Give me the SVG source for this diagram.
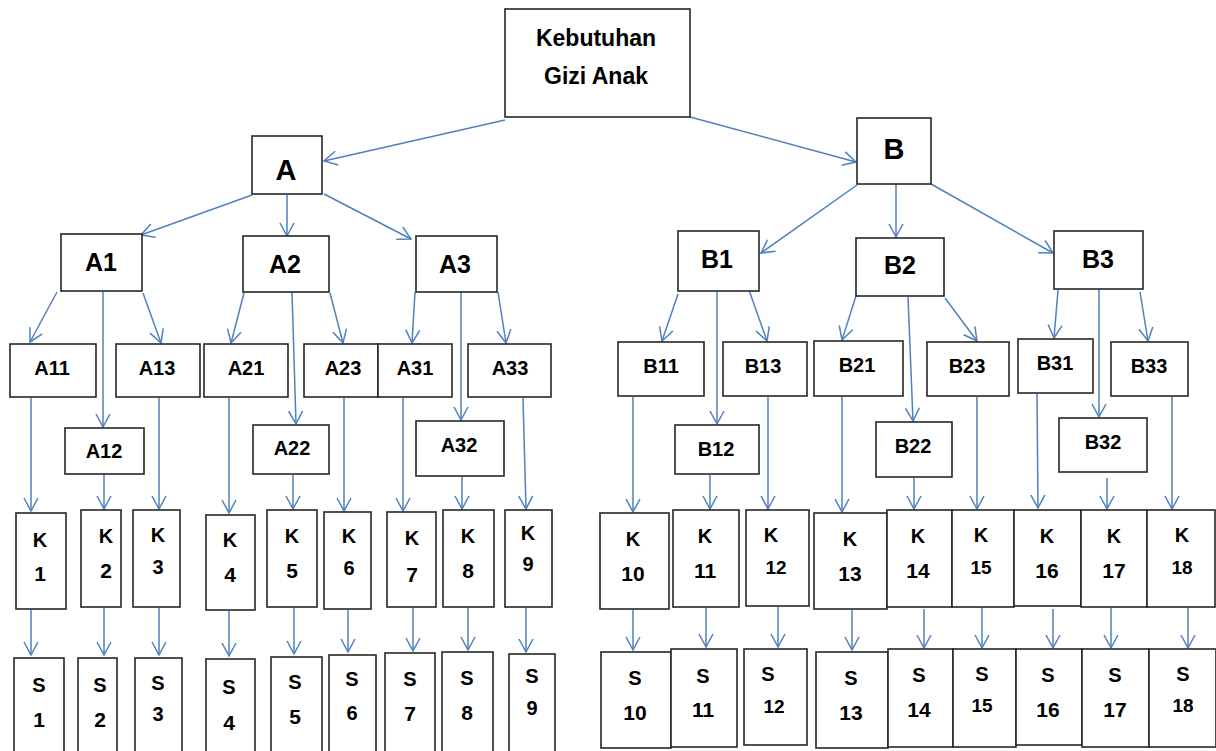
<svg xmlns="http://www.w3.org/2000/svg" width="1216" height="751" viewBox="0 0 1216 751">
<style>
.box{fill:#fff;stroke:#262626;stroke-width:1.6}
text{font-family:"Liberation Sans",Arial,sans-serif;font-weight:bold;text-anchor:middle;fill:#000}
.f28{font-size:29px}.f24{font-size:25px}.f22{font-size:23px}.f19{font-size:20px}.f18{font-size:19px}.f20{font-size:21px}
#connectors line{stroke:#4F81BD;stroke-width:1.5;marker-end:url(#ah)}
</style>
<defs>
<marker id="ah" markerUnits="userSpaceOnUse" markerWidth="16" markerHeight="16" viewBox="0 0 16 16" refX="14" refY="8" orient="auto">
<path d="M1,1 L14,8 L1,15" fill="none" stroke="#4F81BD" stroke-width="1.5"/>
</marker>
</defs>
<rect width="1216" height="751" fill="#fff"/>
<g id="connectors">
<line x1="505" y1="120" x2="324" y2="161"/>
<line x1="690" y1="117" x2="856" y2="162"/>
<line x1="252" y1="195" x2="141" y2="235"/>
<line x1="287" y1="195" x2="287" y2="236"/>
<line x1="324" y1="194" x2="411" y2="239"/>
<line x1="857" y1="185" x2="761" y2="253"/>
<line x1="896" y1="184" x2="896" y2="237"/>
<line x1="931" y1="184" x2="1053" y2="253"/>
<line x1="57" y1="292" x2="30" y2="342"/>
<line x1="103" y1="292" x2="103" y2="427"/>
<line x1="143" y1="293" x2="161" y2="343"/>
<line x1="244" y1="293" x2="231" y2="343"/>
<line x1="292" y1="292" x2="296" y2="424"/>
<line x1="330" y1="293" x2="343" y2="343"/>
<line x1="415" y1="292" x2="412" y2="343"/>
<line x1="461" y1="292" x2="461" y2="420"/>
<line x1="498" y1="292" x2="506" y2="343"/>
<line x1="678" y1="294" x2="662" y2="341"/>
<line x1="717" y1="292" x2="717" y2="424"/>
<line x1="749" y1="290" x2="767" y2="341"/>
<line x1="856" y1="296" x2="842" y2="340"/>
<line x1="908" y1="297" x2="913" y2="421"/>
<line x1="945" y1="298" x2="977" y2="341"/>
<line x1="1058" y1="290" x2="1054" y2="338"/>
<line x1="1099" y1="289" x2="1099" y2="417"/>
<line x1="1140" y1="292" x2="1148" y2="341"/>
<line x1="31" y1="398" x2="31" y2="511"/>
<line x1="104" y1="475" x2="104" y2="509"/>
<line x1="159" y1="398" x2="159" y2="509"/>
<line x1="229" y1="398" x2="229" y2="513"/>
<line x1="293" y1="475" x2="293" y2="509"/>
<line x1="344" y1="398" x2="344" y2="511"/>
<line x1="403" y1="398" x2="403" y2="511"/>
<line x1="462" y1="477" x2="462" y2="509"/>
<line x1="523" y1="398" x2="526" y2="509"/>
<line x1="633" y1="397" x2="633" y2="512"/>
<line x1="710" y1="475" x2="710" y2="509"/>
<line x1="768" y1="397" x2="768" y2="509"/>
<line x1="842" y1="397" x2="842" y2="512"/>
<line x1="914" y1="478" x2="914" y2="509"/>
<line x1="977" y1="397" x2="977" y2="509"/>
<line x1="1037" y1="394" x2="1038" y2="508"/>
<line x1="1107" y1="478" x2="1107" y2="509"/>
<line x1="1172" y1="397" x2="1172" y2="509"/>
<line x1="31" y1="610" x2="31" y2="655"/>
<line x1="104" y1="608" x2="104" y2="655"/>
<line x1="159" y1="608" x2="159" y2="655"/>
<line x1="229" y1="611" x2="229" y2="656"/>
<line x1="294" y1="608" x2="294" y2="654"/>
<line x1="348" y1="610" x2="348" y2="652"/>
<line x1="413" y1="608" x2="413" y2="651"/>
<line x1="468" y1="608" x2="468" y2="650"/>
<line x1="526" y1="608" x2="526" y2="652"/>
<line x1="633" y1="610" x2="633" y2="650"/>
<line x1="706" y1="608" x2="706" y2="647"/>
<line x1="778" y1="607" x2="778" y2="647"/>
<line x1="852" y1="610" x2="852" y2="650"/>
<line x1="924" y1="609" x2="924" y2="648"/>
<line x1="982" y1="607" x2="982" y2="648"/>
<line x1="1053" y1="609" x2="1053" y2="648"/>
<line x1="1111" y1="608" x2="1111" y2="648"/>
<line x1="1188" y1="608" x2="1188" y2="648"/>
</g>
<g id="root"><rect class="box" x="505" y="9" width="185" height="108"/><text class="f22" x="596" y="46">Kebutuhan</text><text class="f22" x="596" y="84">Gizi Anak</text></g>
<g id="A"><rect class="box" x="252" y="136" width="70" height="58"/><text class="f28" x="286" y="180">A</text></g>
<g id="B"><rect class="box" x="857" y="118" width="74" height="66"/><text class="f28" x="894" y="159">B</text></g>
<g id="A1"><rect class="box" x="61" y="234" width="81" height="57"/><text class="f24" x="101" y="271">A1</text></g>
<g id="A2"><rect class="box" x="243" y="236" width="86" height="56"/><text class="f24" x="285" y="273">A2</text></g>
<g id="A3"><rect class="box" x="416" y="236" width="81" height="56"/><text class="f24" x="455" y="273">A3</text></g>
<g id="B1"><rect class="box" x="678" y="231" width="81" height="60"/><text class="f24" x="717" y="268">B1</text></g>
<g id="B2"><rect class="box" x="856" y="238" width="88" height="58"/><text class="f24" x="900" y="274">B2</text></g>
<g id="B3"><rect class="box" x="1054" y="231" width="89" height="58"/><text class="f24" x="1098" y="268">B3</text></g>
<g id="A11"><rect class="box" x="10" y="344" width="86" height="53"/><text class="f19" x="52" y="375">A11</text></g>
<g id="A13"><rect class="box" x="116" y="344" width="84" height="53"/><text class="f19" x="157" y="375">A13</text></g>
<g id="A21"><rect class="box" x="204" y="344" width="84" height="53"/><text class="f19" x="246" y="375">A21</text></g>
<g id="A23"><rect class="box" x="304" y="344" width="74" height="53"/><text class="f19" x="343" y="375">A23</text></g>
<g id="A31"><rect class="box" x="378" y="344" width="74" height="53"/><text class="f19" x="415" y="375">A31</text></g>
<g id="A33"><rect class="box" x="468" y="344" width="83" height="53"/><text class="f19" x="510" y="375">A33</text></g>
<g id="B11"><rect class="box" x="618" y="342" width="86" height="54"/><text class="f19" x="661" y="373">B11</text></g>
<g id="B13"><rect class="box" x="723" y="342" width="84" height="54"/><text class="f19" x="763" y="373">B13</text></g>
<g id="B21"><rect class="box" x="814" y="341" width="89" height="55"/><text class="f19" x="857" y="372">B21</text></g>
<g id="B23"><rect class="box" x="927" y="342" width="82" height="54"/><text class="f19" x="967" y="373">B23</text></g>
<g id="B31"><rect class="box" x="1018" y="339" width="75" height="54"/><text class="f19" x="1055" y="370">B31</text></g>
<g id="B33"><rect class="box" x="1111" y="342" width="77" height="54"/><text class="f19" x="1149" y="373">B33</text></g>
<g id="A12"><rect class="box" x="65" y="428" width="79" height="46"/><text class="f19" x="104" y="458">A12</text></g>
<g id="A22"><rect class="box" x="253" y="425" width="76" height="49"/><text class="f19" x="292" y="455">A22</text></g>
<g id="A32"><rect class="box" x="416" y="421" width="88" height="55"/><text class="f19" x="459" y="452">A32</text></g>
<g id="B12"><rect class="box" x="675" y="425" width="84" height="49"/><text class="f19" x="716" y="456">B12</text></g>
<g id="B22"><rect class="box" x="876" y="422" width="76" height="55"/><text class="f19" x="913" y="453">B22</text></g>
<g id="B32"><rect class="box" x="1059" y="418" width="88" height="54"/><text class="f19" x="1103" y="449">B32</text></g>
<g id="K1"><rect class="box" x="16" y="513" width="50" height="96"/><text class="f19" x="40" y="547">K</text><text class="f20" x="40" y="581">1</text></g>
<g id="K2"><rect class="box" x="81" y="510" width="40" height="97"/><text class="f19" x="106" y="543">K</text><text class="f20" x="106" y="578">2</text></g>
<g id="K3"><rect class="box" x="133" y="510" width="47" height="97"/><text class="f19" x="158" y="542">K</text><text class="f19" x="158" y="574">3</text></g>
<g id="K4"><rect class="box" x="206" y="515" width="49" height="95"/><text class="f19" x="230" y="547">K</text><text class="f20" x="230" y="582">4</text></g>
<g id="K5"><rect class="box" x="267" y="510" width="50" height="97"/><text class="f19" x="292" y="543">K</text><text class="f20" x="292" y="578">5</text></g>
<g id="K6"><rect class="box" x="324" y="512" width="47" height="97"/><text class="f19" x="349" y="543">K</text><text class="f19" x="349" y="575">6</text></g>
<g id="K7"><rect class="box" x="387" y="512" width="49" height="95"/><text class="f19" x="412" y="545">K</text><text class="f20" x="412" y="582">7</text></g>
<g id="K8"><rect class="box" x="443" y="510" width="51" height="97"/><text class="f19" x="468" y="543">K</text><text class="f20" x="468" y="578">8</text></g>
<g id="K9"><rect class="box" x="505" y="510" width="47" height="97"/><text class="f19" x="528" y="540">K</text><text class="f19" x="528" y="571">9</text></g>
<g id="K10"><rect class="box" x="600" y="513" width="69" height="96"/><text class="f19" x="633" y="546">K</text><text class="f20" x="633" y="581">10</text></g>
<g id="K11"><rect class="box" x="673" y="510" width="66" height="97"/><text class="f19" x="705" y="543">K</text><text class="f20" x="705" y="578">11</text></g>
<g id="K12"><rect class="box" x="746" y="510" width="63" height="96"/><text class="f19" x="771" y="542">K</text><text class="f18" x="776" y="574">12</text></g>
<g id="K13"><rect class="box" x="814" y="513" width="73" height="96"/><text class="f19" x="850" y="546">K</text><text class="f20" x="850" y="581">13</text></g>
<g id="K14"><rect class="box" x="887" y="510" width="65" height="97"/><text class="f19" x="918" y="543">K</text><text class="f20" x="918" y="578">14</text></g>
<g id="K15"><rect class="box" x="952" y="510" width="62" height="97"/><text class="f19" x="981" y="542">K</text><text class="f18" x="981" y="574">15</text></g>
<g id="K16"><rect class="box" x="1014" y="510" width="67" height="96"/><text class="f19" x="1047" y="543">K</text><text class="f20" x="1047" y="578">16</text></g>
<g id="K17"><rect class="box" x="1081" y="510" width="66" height="97"/><text class="f19" x="1114" y="543">K</text><text class="f20" x="1114" y="578">17</text></g>
<g id="K18"><rect class="box" x="1147" y="510" width="68" height="97"/><text class="f19" x="1182" y="542">K</text><text class="f18" x="1182" y="574">18</text></g>
<g id="S1"><rect class="box" x="14" y="658" width="50" height="100"/><text class="f19" x="39" y="692">S</text><text class="f20" x="39" y="727">1</text></g>
<g id="S2"><rect class="box" x="78" y="658" width="39" height="100"/><text class="f19" x="100" y="692">S</text><text class="f20" x="100" y="727">2</text></g>
<g id="S3"><rect class="box" x="135" y="658" width="47" height="100"/><text class="f19" x="158" y="690">S</text><text class="f19" x="158" y="721">3</text></g>
<g id="S4"><rect class="box" x="206" y="659" width="49" height="100"/><text class="f19" x="229" y="694">S</text><text class="f20" x="229" y="730">4</text></g>
<g id="S5"><rect class="box" x="271" y="657" width="51" height="100"/><text class="f19" x="295" y="689">S</text><text class="f20" x="295" y="724">5</text></g>
<g id="S6"><rect class="box" x="329" y="655" width="47" height="100"/><text class="f19" x="352" y="686">S</text><text class="f19" x="352" y="720">6</text></g>
<g id="S7"><rect class="box" x="385" y="653" width="50" height="100"/><text class="f19" x="410" y="686">S</text><text class="f20" x="410" y="721">7</text></g>
<g id="S8"><rect class="box" x="442" y="652" width="51" height="100"/><text class="f19" x="467" y="685">S</text><text class="f20" x="467" y="720">8</text></g>
<g id="S9"><rect class="box" x="509" y="654" width="46" height="100"/><text class="f19" x="532" y="683">S</text><text class="f19" x="532" y="715">9</text></g>
<g id="S10"><rect class="box" x="601" y="652" width="70" height="96"/><text class="f19" x="635" y="685">S</text><text class="f20" x="635" y="720">10</text></g>
<g id="S11"><rect class="box" x="671" y="649" width="66" height="98"/><text class="f19" x="703" y="683">S</text><text class="f20" x="703" y="717">11</text></g>
<g id="S12"><rect class="box" x="744" y="649" width="63" height="96"/><text class="f19" x="768" y="681">S</text><text class="f18" x="774" y="713">12</text></g>
<g id="S13"><rect class="box" x="816" y="652" width="72" height="96"/><text class="f19" x="851" y="685">S</text><text class="f20" x="851" y="720">13</text></g>
<g id="S14"><rect class="box" x="888" y="649" width="65" height="98"/><text class="f19" x="919" y="682">S</text><text class="f20" x="919" y="717">14</text></g>
<g id="S15"><rect class="box" x="953" y="649" width="63" height="98"/><text class="f19" x="982" y="681">S</text><text class="f18" x="982" y="712">15</text></g>
<g id="S16"><rect class="box" x="1016" y="649" width="66" height="96"/><text class="f19" x="1048" y="682">S</text><text class="f20" x="1048" y="717">16</text></g>
<g id="S17"><rect class="box" x="1082" y="649" width="67" height="98"/><text class="f19" x="1115" y="682">S</text><text class="f20" x="1115" y="717">17</text></g>
<g id="S18"><rect class="box" x="1149" y="649" width="67" height="98"/><text class="f19" x="1183" y="681">S</text><text class="f18" x="1183" y="712">18</text></g>
</svg>
